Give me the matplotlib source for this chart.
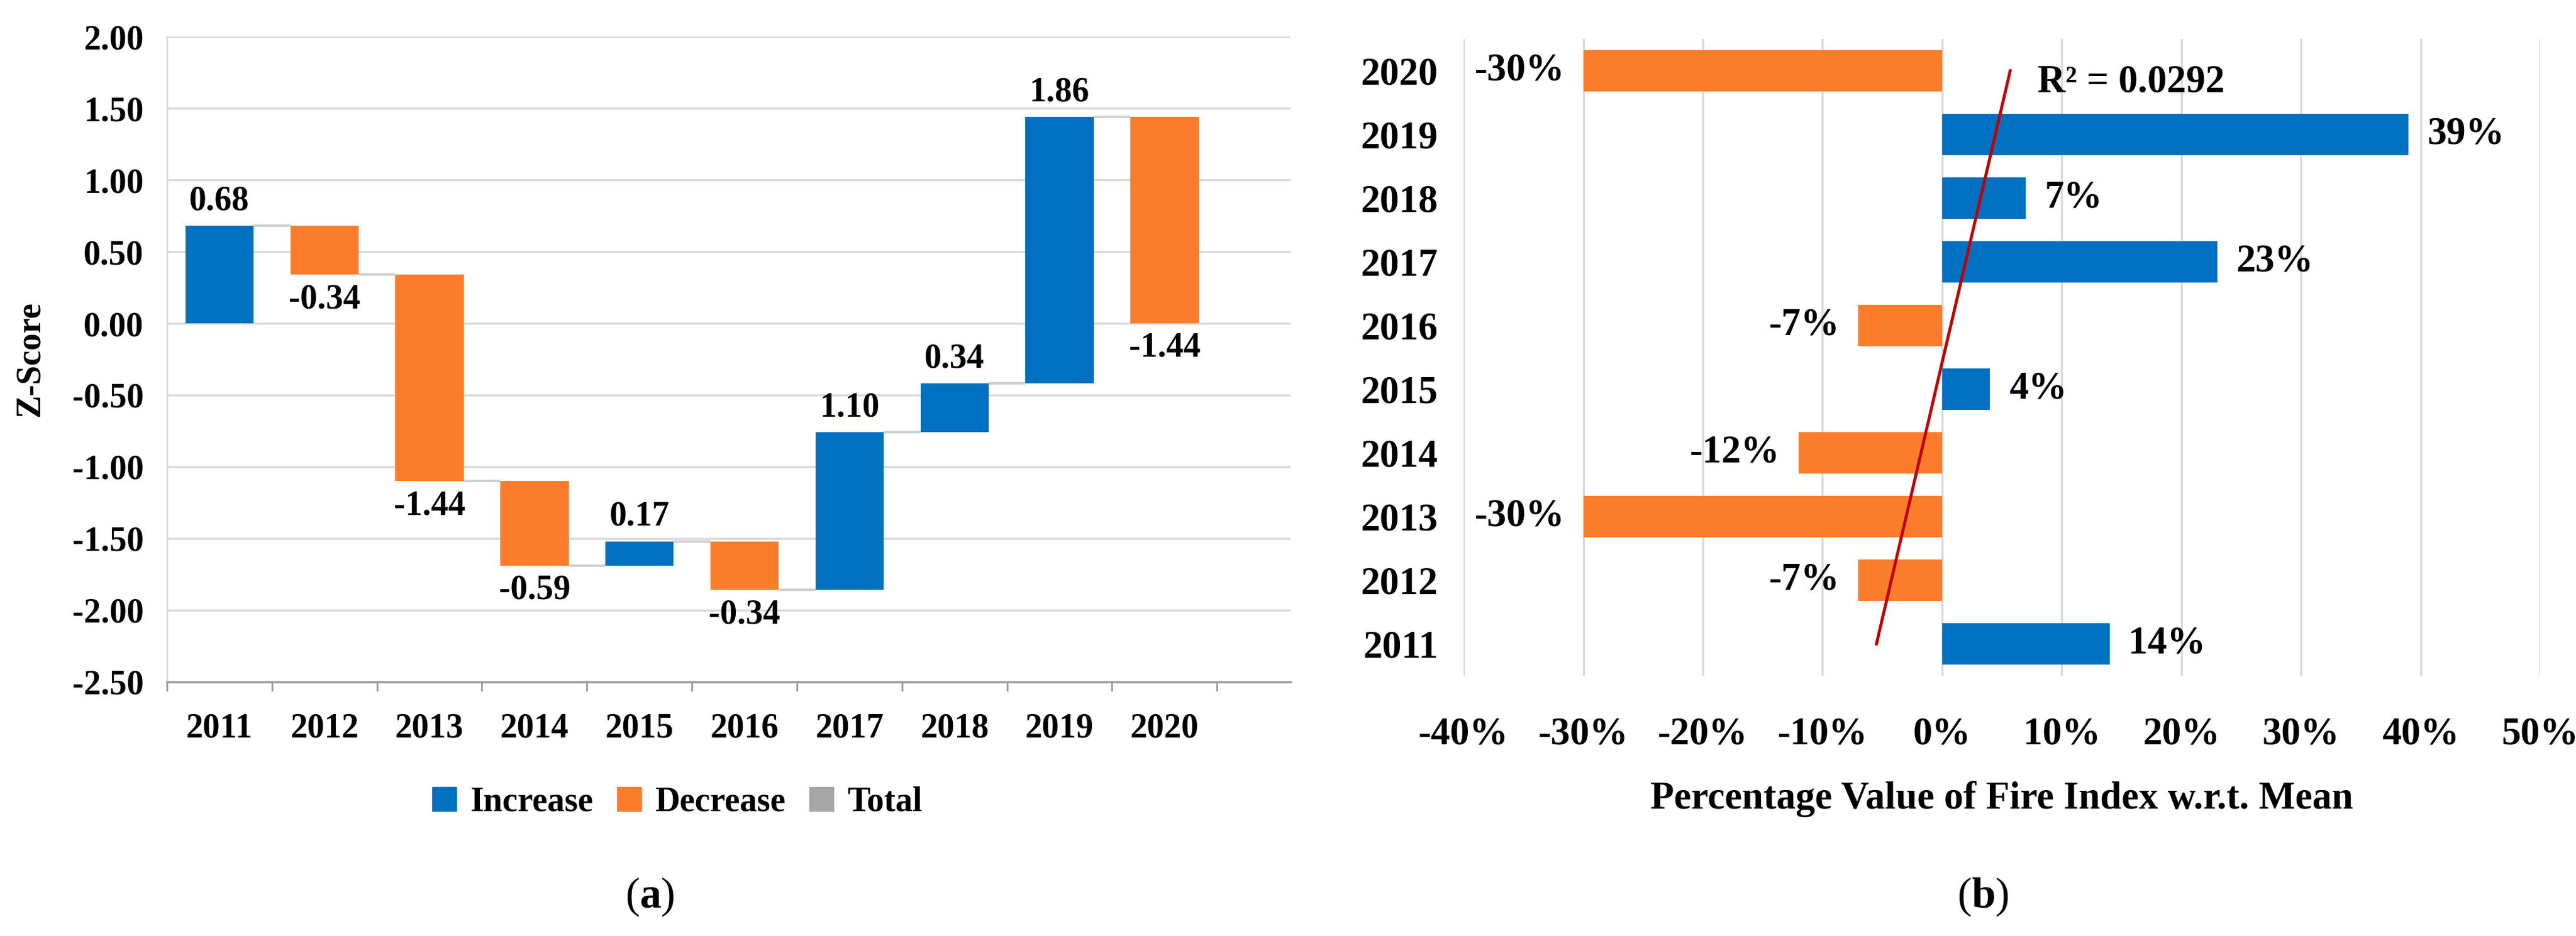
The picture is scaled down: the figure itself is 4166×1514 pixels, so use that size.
import matplotlib
matplotlib.use("Agg")
import matplotlib.pyplot as plt
import matplotlib.patches as mpatches
import numpy as np

plt.rcParams['font.family'] = ['Liberation Serif', 'DejaVu Serif']
plt.rcParams['axes.unicode_minus'] = False
plt.rcParams['mathtext.fontset'] = 'custom'
plt.rcParams['mathtext.rm'] = 'Liberation Serif'
plt.rcParams['mathtext.bf'] = 'Liberation Serif:bold'

years = ['2011', '2012', '2013', '2014', '2015', '2016', '2017', '2018', '2019', '2020']
z_change = [0.68, -0.34, -1.44, -0.59, 0.17, -0.34, 1.10, 0.34, 1.86, -1.44]
pct_mean = [0.14, -0.07, -0.30, -0.12, 0.04, -0.07, 0.23, 0.07, 0.39, -0.30]
pct_labels = ['14%', '-7%', '-30%', '-12%', '4%', '-7%', '23%', '7%', '39%', '-30%']
r2_text = 'R² = 0.0292'

blue = '#0070C0'
orange = '#FB7D2B'
gray = '#A5A5A5'
grid_c = '#D9D9D9'

fig = plt.figure(figsize=(41.66, 15.14), dpi=100)

# ---- (a) waterfall of Z-score ----
ax = fig.add_axes([0.0648, 0.2715, 0.4362, 0.6895])
z = np.array(z_change)
end = np.cumsum(z)
start = end - z
x = np.arange(len(years))
w = 0.65
cols = [blue if v >= 0 else orange for v in z]
ax.bar(x, z, bottom=start, width=w, color=cols, zorder=3)
# connectors between bars
ax.hlines(end[:-1], x[:-1] + w / 2, x[1:] - w / 2, colors='#D0D0D0', lw=3, zorder=2)
for i, v in enumerate(z):
    if v >= 0:
        ax.annotate(f'{v:.2f}', (x[i], end[i]), xytext=(0, 10), textcoords='offset points',
                    ha='center', va='bottom', fontsize=40, fontweight='bold')
    else:
        ax.annotate(f'{v:.2f}', (x[i], end[i]), xytext=(0, -10), textcoords='offset points',
                    ha='center', va='top', fontsize=40, fontweight='bold')

ax.set_xlim(-0.5, 10.2)
ax.set_ylim(-2.5, 2.0)
ax.set_yticks(np.arange(-2.5, 2.01, 0.5))
ax.set_yticklabels([f'{t:.2f}' for t in np.arange(-2.5, 2.01, 0.5)])
ax.set_xticks(np.arange(-0.5, 10.0, 1.0))
ax.set_xticklabels([])
ax.set_xticks(x, minor=True)
ax.set_xticklabels(years, minor=True)
ax.tick_params(axis='x', which='major', length=11, width=2, color='#9A9A9A', direction='out')
ax.tick_params(axis='x', which='minor', length=0, pad=36, labelsize=40)
ax.tick_params(axis='y', length=0, pad=27, labelsize=40)
for lab in ax.get_xticklabels(minor=True) + ax.get_yticklabels():
    lab.set_fontweight('bold')
ax.yaxis.grid(True, color=grid_c, lw=2.5)
ax.set_axisbelow(True)
for s in ['top', 'right']:
    ax.spines[s].set_visible(False)
ax.spines['left'].set_color(grid_c)
ax.spines['left'].set_linewidth(2)
ax.spines['bottom'].set_color('#9A9A9A')
ax.spines['bottom'].set_linewidth(2.5)
ax.set_ylabel('Z-Score', fontsize=40, fontweight='bold', labelpad=30)

handles = [mpatches.Patch(color=blue, label='Increase'),
           mpatches.Patch(color=orange, label='Decrease'),
           mpatches.Patch(color=gray, label='Total')]
fig.legend(handles=handles, loc='center', bbox_to_anchor=(1095 / 4166, 1 - 1298 / 1514), ncol=3,
           frameon=False, prop={'size': 40, 'weight': 'bold'}, handlelength=0.7, handleheight=0.7,
           handletextpad=0.4, columnspacing=0.7)

# ---- (b) percentage w.r.t. mean ----
bx = fig.add_axes([0.5682, 0.2781, 0.4179, 0.6803])
p = np.array(pct_mean)
y = np.arange(len(years))
bx.barh(y, p, height=0.65, color=[blue if v >= 0 else orange for v in p], zorder=3)
for i, v in enumerate(p):
    if v >= 0:
        bx.annotate(pct_labels[i], (v, y[i]), xytext=(22, 0), textcoords='offset points',
                    ha='left', va='center', fontsize=45, fontweight='bold')
    else:
        bx.annotate(pct_labels[i], (v, y[i]), xytext=(-22, 0), textcoords='offset points',
                    ha='right', va='center', fontsize=45, fontweight='bold')

# linear trendline over categories
idx = np.arange(1, len(years) + 1)
k, b0 = np.polyfit(idx, p, 1)
tx = k * idx[[0, -1]] + b0
bx.plot(tx, y[[0, -1]], color='#C00000', lw=3.5, zorder=4)
bx.annotate(r2_text, (tx[-1], y[-1]), xytext=(32, -14), textcoords='offset points',
            ha='left', va='center', fontsize=45, fontweight='bold')

bx.set_xlim(-0.4, 0.5)
bx.set_ylim(-0.5, 9.5)
xt = np.arange(-0.4, 0.51, 0.1)
bx.set_xticks(xt)
bx.set_xticklabels([f'{round(t * 100):d}%' for t in xt])
bx.set_yticks(y)
bx.set_yticklabels(years)
bx.tick_params(axis='x', length=0, pad=48, labelsize=45)
bx.tick_params(axis='y', length=0, pad=30, labelsize=45)
for lab in bx.get_xticklabels() + bx.get_yticklabels():
    lab.set_fontweight('bold')
bx.xaxis.grid(True, color=grid_c, lw=2.5)
bx.set_axisbelow(True)
for s in bx.spines.values():
    s.set_visible(False)
bx.set_xlabel('Percentage Value of Fire Index w.r.t. Mean', fontsize=45, fontweight='bold')
bx.xaxis.set_label_coords(0.5, -0.165)

fig.text(1051 / 4166, 1 - 1451 / 1514, r'($\mathbf{a}$)', ha='center', va='center', fontsize=50)
fig.text(3207 / 4166, 1 - 1451 / 1514, r'($\mathbf{b}$)', ha='center', va='center', fontsize=50)

fig.savefig('out.png', dpi=100, facecolor='white')
